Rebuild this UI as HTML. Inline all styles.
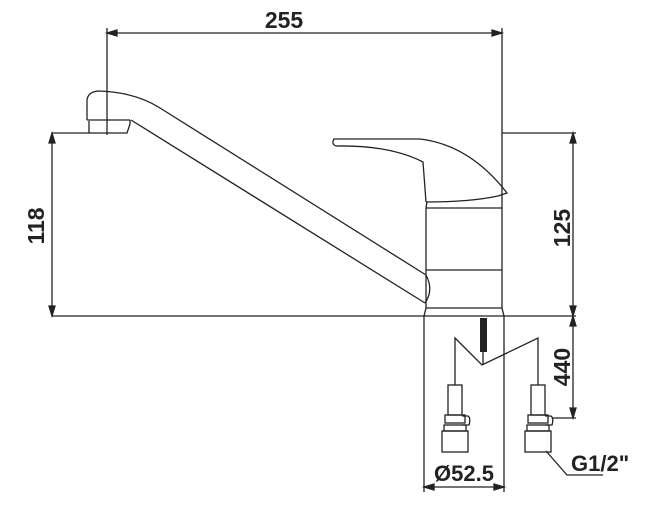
<!DOCTYPE html>
<html><head><style>body{margin:0;background:#fff}svg{display:block}text{font-family:"Liberation Sans",Arial,sans-serif;font-weight:bold;fill:#222}</style></head>
<body>
<svg width="650" height="508" viewBox="0 0 650 508" fill="none" stroke="#222" stroke-width="1.3">
<line x1="107" y1="33" x2="502" y2="33"/>
<path d="M107 33 l10 -3 v6z M502 33 l-10 -3 v6z" fill="#222"/>
<line x1="107" y1="28" x2="107" y2="135"/>
<line x1="502" y1="28" x2="502" y2="202"/>
<text x="284" y="28" font-size="23" text-anchor="middle" stroke="none">255</text>
<line x1="52" y1="133" x2="90" y2="133"/>
<line x1="52" y1="133" x2="52" y2="316"/>
<path d="M52 133 l-3 10 h6z M52 316 l-3 -10 h6z" fill="#222"/>
<text transform="translate(44,226) rotate(-90)" font-size="23" text-anchor="middle" stroke="none">118</text>
<line x1="52" y1="316" x2="576" y2="316"/>
<path d="M87 120 V100 Q88 92 98 91 Q135 92 160 108 L426 275"/>
<path d="M87 120 H130"/>
<path d="M89 121 V133 H127 L130 124 V120"/>
<path d="M131 120 L425 303"/>
<path d="M426 275 Q434 290 425 303"/>
<path d="M427 202 L426 208 V308 L424 316"/>
<path d="M502 202 V308 L504 316"/>
<line x1="426" y1="208" x2="502" y2="208"/>
<line x1="426" y1="270" x2="502" y2="270"/>
<line x1="426" y1="308" x2="502" y2="308"/>
<path d="M426 202 L423 162 Q390 145 336 146 Q331 144 334 139 L420 139 Q470 145 507 193 L498 196 Q470 202 426 202"/>
<line x1="502" y1="133" x2="576" y2="133"/>
<line x1="573" y1="133" x2="573" y2="316"/>
<path d="M573 133 l-3 10 h6z M573 316 l-3 -10 h6z M573 316 l-3 10 h6z M573 418 l-3 -10 h6z" fill="#222"/>
<text transform="translate(570,228) rotate(-90)" font-size="23" text-anchor="middle" stroke="none">125</text>
<line x1="573" y1="316" x2="573" y2="418"/>
<line x1="553" y1="418" x2="576" y2="418"/>
<text transform="translate(570,367) rotate(-90)" font-size="23" text-anchor="middle" stroke="none">440</text>
<line x1="424" y1="316" x2="424" y2="492"/>
<line x1="504" y1="316" x2="504" y2="492"/>
<line x1="424" y1="487" x2="504" y2="487"/>
<path d="M424 487 l10 -3 v6z M504 487 l-10 -3 v6z" fill="#222"/>
<text x="464" y="481" font-size="22" text-anchor="middle" stroke="none">Ø52.5</text>
<rect x="480" y="318" width="7" height="34" fill="#222" stroke="none"/>
<path d="M455 385 V338 L482 365 L538 338 V385"/>
<line x1="483" y1="352" x2="483" y2="365"/>
<g id="c">
<rect x="448" y="385" width="14" height="30"/>
<rect x="445" y="415" width="20" height="8"/>
<path d="M462 416 h6 q3 2 1 9 h-7"/>
<rect x="444" y="425" width="22" height="6"/>
<rect x="442" y="431" width="26" height="21"/>
</g>
<use href="#c" x="83"/>
<path d="M546 451 L567 475 H603"/>
<text x="571" y="471" font-size="22" stroke="none">G1/2"</text>
</svg>
</body></html>
